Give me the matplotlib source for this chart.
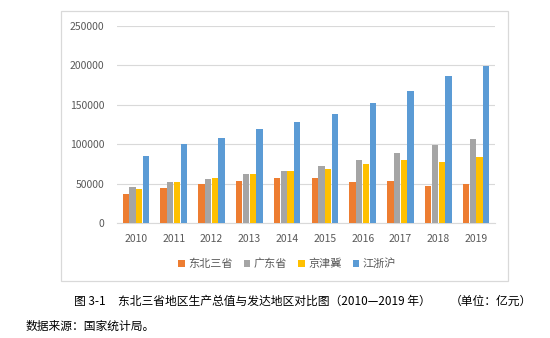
import matplotlib.pyplot as plt
import matplotlib.patches as mpatches
import numpy as np

plt.rcParams['font.family'] = ['Noto Sans CJK SC', 'DejaVu Sans']

years = ['2010', '2011', '2012', '2013', '2014', '2015', '2016', '2017', '2018', '2019']
dongbei = [36700, 44700, 49300, 53500, 56900, 56900, 51400, 53100, 46800, 49300]
guangdong = [45500, 52300, 56100, 61600, 66600, 72100, 80100, 88500, 99100, 106700]
jingjinji = [43000, 51400, 56900, 62400, 65800, 68700, 75000, 79700, 78000, 84300]
jiangzhehu = [85600, 99900, 108400, 118900, 127700, 137900, 151800, 167400, 186800, 199400]

series = [('东北三省', dongbei, '#ED7D31'),
          ('广东省', guangdong, '#A5A5A5'),
          ('京津冀', jingjinji, '#FFC000'),
          ('江浙沪', jiangzhehu, '#5B9BD5')]

fig = plt.figure(figsize=(5.5, 3.38), dpi=100)
ax = fig.add_axes([117/550, 1-223/338, (495-117)/550, (223-26)/338])

x = np.arange(len(years))
w = 0.165
step = 0.178
for i, (name, vals, col) in enumerate(series):
    ax.bar(x + (i - 1.5) * step, vals, w, color=col, label=name, zorder=3)

ax.set_xlim(-0.5, len(years) - 0.5)
ax.set_ylim(0, 250000)
ax.set_yticks(range(0, 250001, 50000))
ax.set_xticks(x)
ax.set_xticklabels(years)
ax.tick_params(length=0, labelsize=7.5, colors='#595959', pad=8)
ax.tick_params(axis='y', pad=9)
ax.grid(axis='y', color='#D9D9D9', linewidth=0.8, zorder=0)
for s in ['top', 'right', 'left']:
    ax.spines[s].set_visible(False)
ax.spines['bottom'].set_color('#D9D9D9')

# 바깥 차트 테두리
frame = mpatches.Rectangle((61/550, 1-281/338), (508-61)/550, (281-11)/338,
                           transform=fig.transFigure, fill=False,
                           edgecolor='#D9D9D9', linewidth=0.9)
fig.patches.append(frame)

leg = fig.legend(loc='center', bbox_to_anchor=(287/550, 1-264/338), ncol=4,
                 frameon=False, fontsize=8, handlelength=0.6, handleheight=0.6,
                 handletextpad=0.3, columnspacing=1.0)
for t in leg.get_texts():
    t.set_color('#595959')

fig.text(74/550, 1-301/338, '图 3-1', fontsize=8.5, va='center')
fig.text(118/550, 1-301/338, '东北三省地区生产总值与发达地区对比图（2010—2019 年）',
         fontsize=8.5, va='center')
fig.text(450/550, 1-301/338, '（单位：亿元）', fontsize=8.5, va='center')
fig.text(26/550, 1-326/338, '数据来源：国家统计局。', fontsize=8.5, va='center')

fig.savefig('out.png', dpi=100)
